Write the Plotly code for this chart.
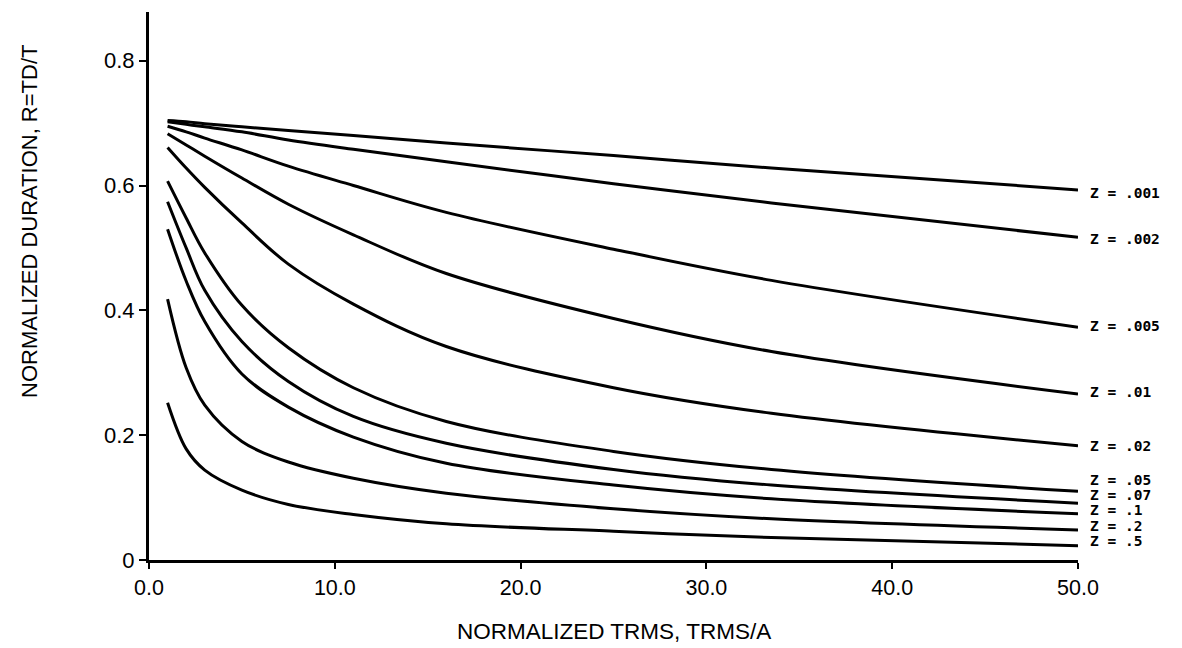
import plotly.graph_objects as go

# Normalized TRMS (x) sample points
x_vals = [1, 2, 3, 5, 7.5, 11, 16, 25, 33.5, 50]

z_labels = ["Z = .001", "Z = .002", "Z = .005", "Z = .01", "Z = .02",
            "Z = .05", "Z = .07", "Z = .1", "Z = .2", "Z = .5"]

r_z001 = [0.704, 0.702, 0.699, 0.694, 0.688, 0.680, 0.668, 0.648, 0.628, 0.593]
r_z002 = [0.702, 0.698, 0.694, 0.686, 0.673, 0.658, 0.638, 0.603, 0.572, 0.517]
r_z005 = [0.695, 0.686, 0.676, 0.657, 0.631, 0.600, 0.557, 0.498, 0.448, 0.373]
r_z01 = [0.683, 0.665, 0.647, 0.612, 0.570, 0.521, 0.459, 0.387, 0.334, 0.266]
r_z02 = [0.661, 0.628, 0.597, 0.540, 0.474, 0.410, 0.342, 0.276, 0.235, 0.183]
r_z05 = [0.607, 0.548, 0.492, 0.408, 0.340, 0.276, 0.222, 0.174, 0.145, 0.110]
r_z07 = [0.574, 0.500, 0.432, 0.350, 0.286, 0.230, 0.187, 0.145, 0.120, 0.091]
r_z1 = [0.530, 0.447, 0.382, 0.298, 0.245, 0.197, 0.155, 0.120, 0.098, 0.074]
r_z2 = [0.418, 0.308, 0.248, 0.190, 0.157, 0.131, 0.107, 0.082, 0.066, 0.048]
r_z5 = [0.252, 0.178, 0.144, 0.112, 0.089, 0.073, 0.058, 0.046, 0.036, 0.023]

series = [r_z001, r_z002, r_z005, r_z01, r_z02, r_z05, r_z07, r_z1, r_z2, r_z5]

x_ticks = [0, 10, 20, 30, 40, 50]
x_tick_text = ["0.0", "10.0", "20.0", "30.0", "40.0", "50.0"]
y_ticks = [0, 0.2, 0.4, 0.6, 0.8]
y_tick_text = ["0", "0.2", "0.4", "0.6", "0.8"]

# vertical placement of the right-hand labels (in y data units)
label_y = [0.588, 0.514, 0.375, 0.269, 0.183, 0.128, 0.104, 0.080, 0.055, 0.030]

fig = go.Figure()
for name, ys in zip(z_labels, series):
    fig.add_trace(go.Scatter(
        x=x_vals, y=ys, mode="lines", name=name,
        line=dict(color="black", width=3, shape="spline", smoothing=1.0),
        showlegend=False, hoverinfo="skip"))

for name, ly in zip(z_labels, label_y):
    fig.add_annotation(
        x=50, y=ly, xref="x", yref="y", text=name, showarrow=False,
        xanchor="left", yanchor="middle", xshift=10,
        font=dict(family="DejaVu Sans Mono", size=14.5, color="black", weight="bold"))

fig.add_annotation(
    x=-0.128, y=0.617, xref="paper", yref="paper",
    text="NORMALIZED DURATION, R=TD/T", textangle=-90, showarrow=False,
    xanchor="center", yanchor="middle",
    font=dict(family="Liberation Sans, Arial, sans-serif", size=22, color="black"))

fig.add_annotation(
    x=0.5, y=-0.1296, xref="paper", yref="paper",
    text="NORMALIZED TRMS, TRMS/A", showarrow=False,
    xanchor="center", yanchor="middle",
    font=dict(family="Liberation Sans, Arial, sans-serif", size=22.5, color="black"))

# page body has an 8px default margin; size the figure so the plot lands
# at the same window pixels as the reference
fig.update_layout(
    width=1174, height=640,
    margin=dict(l=141, r=104, t=4, b=88),
    paper_bgcolor="white", plot_bgcolor="white",
    xaxis=dict(range=[0, 50], showgrid=False, zeroline=False,
               showline=True, linecolor="black", linewidth=3,
               ticks="outside", ticklen=6, tickwidth=2, tickcolor="black",
               tickvals=x_ticks, ticktext=x_tick_text,
               tickfont=dict(family="Liberation Sans, Arial, sans-serif", size=21.5, color="black")),
    yaxis=dict(range=[0, 0.878], showgrid=False, zeroline=False,
               showline=True, linecolor="black", linewidth=3,
               ticks="outside", ticklen=7, tickwidth=2, tickcolor="black",
               tickvals=y_ticks, ticktext=y_tick_text,
               tickfont=dict(family="Liberation Sans, Arial, sans-serif", size=22, color="black")),
)

fig.write_html("out.html")
